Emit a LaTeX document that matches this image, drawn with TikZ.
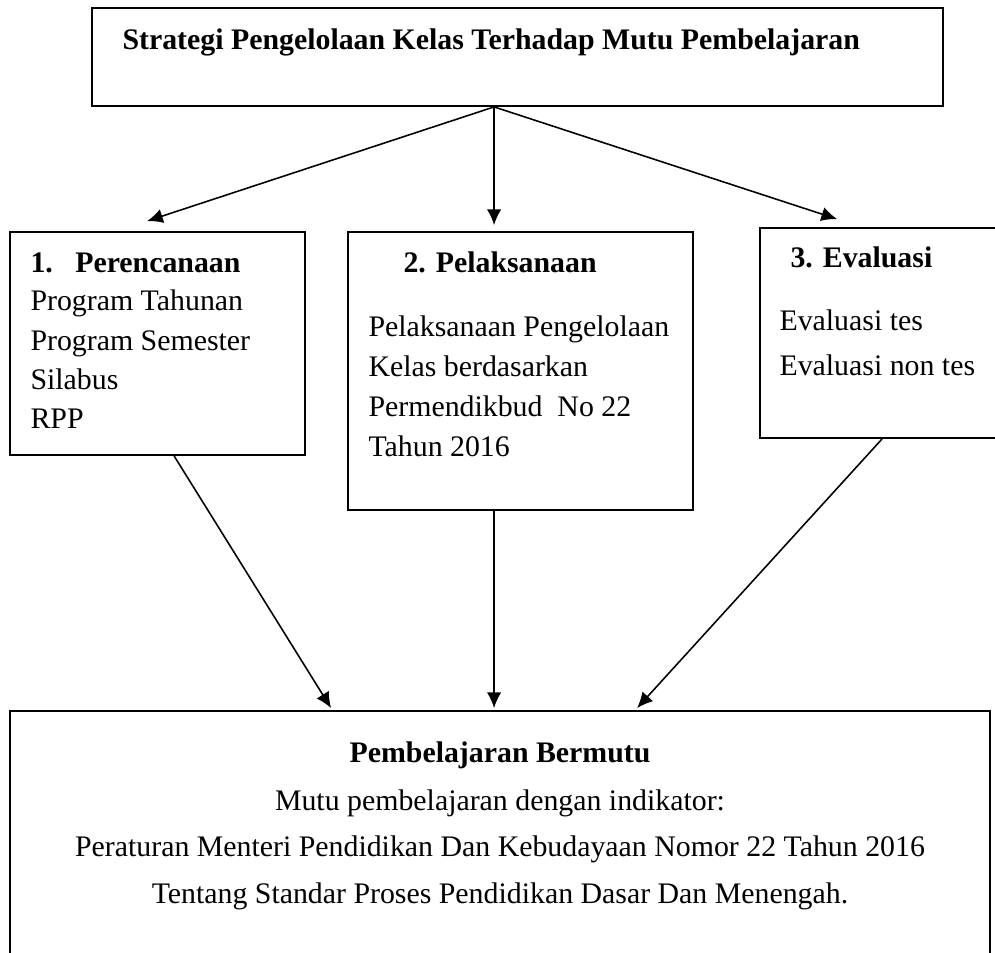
\documentclass[tikz,border=0pt]{standalone}
\usepackage{fontspec}
\setmainfont{Liberation Serif}
\usetikzlibrary{arrows.meta, fit, calc}

\begin{document}
\begin{tikzpicture}[
  x=0.01343cm, y=-0.01343cm,
  box/.style={
    draw,
    rectangle,
    line width=0.7pt,
    inner sep=0pt
  },
  txt/.style={
    inner sep=0pt,
    font=\fontsize{11.4}{14}\selectfont
  },
  head/.style={txt, font=\fontsize{11.4}{14}\selectfont\bfseries},
  arrow/.style={-{Latex[length=6pt, width=5.5pt]}, semithick}
]
\useasboundingbox (0,0) rectangle (995,953);

% boxes
\node[box, fit={(92,8) (943,106)}] (strategy) {};
\node[box, fit={(10,232) (305,455)}] (plan) {};
\node[box, fit={(348,232) (693,510)}] (exec) {};
\node[box, fit={(760,228) (1010,438)}] (eval) {};
\node[box, fit={(10,711) (990,990)}] (quality) {};

% texts
\node[head, anchor=base west] (strategy-t) at (122,50) {Strategi Pengelolaan Kelas Terhadap Mutu Pembelajaran};

\node[head, anchor=base west] (plan-t) at (30,273) {1.\hspace{0.75em}Perencanaan};
\foreach \y/\t [count=\i] in {311/Program Tahunan, 351/Program Semester, 390/Silabus, 429/RPP}
  \node[txt, anchor=base west] (plan-\i) at (30,\y) {\t};

\node[head, anchor=base west] (exec-t) at (403,273) {2. Pelaksanaan};
\foreach \y/\t [count=\i] in {337/Pelaksanaan Pengelolaan, 377/Kelas berdasarkan, 417/Permendikbud\ \ No 22, 457/Tahun 2016}
  \node[txt, anchor=base west] (exec-\i) at (368,\y) {\t};

\node[head, anchor=base west] (eval-t) at (790,268) {3. Evaluasi};
\node[txt, anchor=base west] (eval-1) at (779,331) {Evaluasi tes};
\node[txt, anchor=base west] (eval-2) at (779,376) {Evaluasi non tes};

\node[head, anchor=base] (quality-t) at (500,762) {Pembelajaran Bermutu};
\foreach \y/\t [count=\i] in {810/Mutu pembelajaran dengan indikator:, 857/Peraturan Menteri Pendidikan Dan Kebudayaan Nomor 22 Tahun 2016, 903/Tentang Standar Proses Pendidikan Dasar Dan Menengah.}
  \node[txt, anchor=base] (quality-\i) at (500,\y) {\t};

% connectors
\coordinate (split) at ($(strategy.south west)+(403,0)$);
\draw[arrow] (split) -- ($(plan.north west)+(138,-10)$);
\draw[arrow] (split) -- ($(exec.north west)+(147,-6)$);
\draw[arrow] (split) -- ($(eval.north west)+(78,-8)$);

\draw[arrow] ($(plan.south west)+(165,0)$) -- ($(quality.north west)+(322,-2)$);
\draw[arrow] ($(exec.south west)+(147,0)$) -- ($(quality.north west)+(485,-2)$);
\draw[arrow] ($(eval.south west)+(123,0)$) -- ($(quality.north west)+(628,-2)$);

\end{tikzpicture}
\end{document}
